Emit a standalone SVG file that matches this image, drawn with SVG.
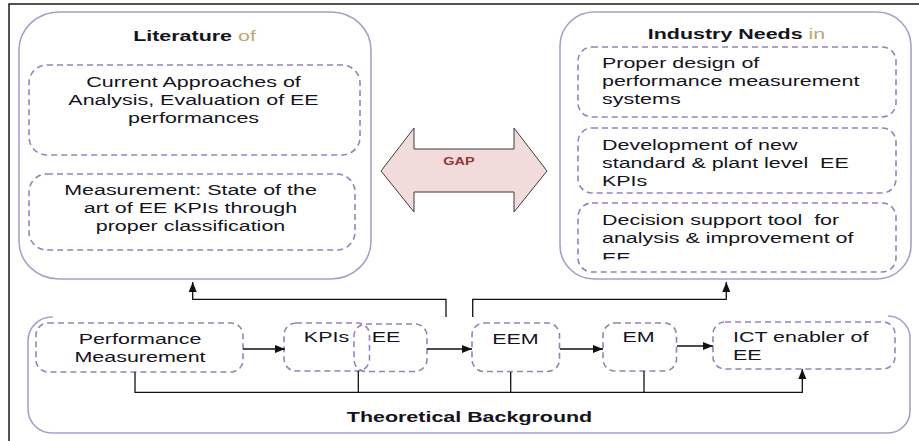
<svg xmlns="http://www.w3.org/2000/svg" width="919" height="441" viewBox="0 0 919 441">
<style>
.frame{fill:none;stroke:#1a1a1a;stroke-width:1.5}
.big{fill:none;stroke:#ab9dcb;stroke-width:1.6}
.dash{fill:#fff;stroke:#9781bb;stroke-width:1.6;stroke-dasharray:6 4}
.dashn{fill:none;stroke:#9781bb;stroke-width:1.6;stroke-dasharray:6 4}
.t{font-family:"Liberation Sans",Arial,sans-serif;font-size:15px;fill:#141420;white-space:pre}
.b{font-weight:bold}
.c{text-anchor:middle}
.tan{fill:#c2a673;font-weight:normal}
.con{fill:none;stroke:#111;stroke-width:1.3}
.gap{fill:#f2dcdb;stroke:#3c3c3c;stroke-width:1}
.gapt{font-family:"Liberation Sans",Arial,sans-serif;font-size:10px;font-weight:bold;fill:#953735;text-anchor:middle}
</style>
<defs>
<marker id="ah" viewBox="0 0 10 10" refX="10" refY="5" markerWidth="10" markerHeight="10" markerUnits="userSpaceOnUse" orient="auto">
<path d="M0,1 L10,5 L0,9 z" fill="#111"/>
</marker>
<clipPath id="clipEE"><rect x="590" y="240" width="200" height="19.5"/></clipPath>
</defs>
<rect width="919" height="441" fill="#fff"/>
<path class="frame" d="M9,441 L9,4 L919,4"/>

<g id="literature">
<rect class="big" x="19" y="12" width="352" height="267" rx="40" ry="38"/>
<g transform="translate(194.5,0) scale(1.43,1)"><text class="t b c" x="0" y="41">Literature <tspan class="tan">of</tspan></text></g>
</g>
<g id="lit-approaches">
<rect class="dash" x="29" y="65" width="331" height="90" rx="18"/>
<g transform="translate(193.5,0) scale(1.43,1)"><text class="t c" x="0" y="87">Current Approaches of</text><text class="t c" x="0" y="105">Analysis, Evaluation of EE</text><text class="t c" x="0" y="123">performances</text></g>
</g>
<g id="lit-measurement">
<rect class="dash" x="29" y="174" width="326" height="76" rx="18"/>
<g transform="translate(190.5,0) scale(1.43,1)"><text class="t c" x="0" y="195">Measurement: State of the</text><text class="t c" x="0" y="213">art of EE KPIs through</text><text class="t c" x="0" y="231">proper classification</text></g>
</g>

<g id="gap">
<polygon class="gap" points="381,171 414,128 414,149 514,149 514,128 547,171 514,212 514,192 414,192 414,212"/>
<g transform="translate(459,0) scale(1.45,1)"><text class="gapt" x="0" y="165">GAP</text></g>
</g>

<g id="industry">
<rect class="big" x="560" y="12" width="351" height="267" rx="34" ry="34"/>
<g transform="translate(736.5,0) scale(1.43,1)"><text class="t b c" x="0" y="39">Industry Needs <tspan class="tan">in</tspan></text></g>
</g>
<g id="ind-design">
<rect class="dash" x="578" y="47" width="318" height="70" rx="14"/>
<g transform="translate(602,0) scale(1.43,1)"><text class="t" x="0" y="68">Proper design of</text><text class="t" x="0" y="86">performance measurement</text><text class="t" x="0" y="104">systems</text></g>
</g>
<g id="ind-development">
<rect class="dash" x="578" y="128" width="318" height="65" rx="14"/>
<g transform="translate(602,0) scale(1.43,1)"><text class="t" x="0" y="150">Development of new</text><text class="t" x="0" y="168">standard &amp; plant level  EE</text><text class="t" x="0" y="186">KPIs</text></g>
</g>
<g id="ind-decision">
<rect class="dash" x="578" y="203" width="318" height="69" rx="14"/>
<g transform="translate(602,0) scale(1.43,1)"><text class="t" x="0" y="225">Decision support tool  for</text><text class="t" x="0" y="243">analysis &amp; improvement of</text></g>
<g clip-path="url(#clipEE)"><g transform="translate(602,0) scale(1.43,1)"><text class="t" x="0" y="263">EE</text></g></g>
</g>

<g id="theoretical">
<path class="big" d="M53,317 A24,24 0 0 0 28,341 L28,409 A24,24 0 0 0 52,433 L888,433 A22,22 0 0 0 910,411 L910,338 A22,22 0 0 0 888,316"/>
<g transform="translate(469.5,0) scale(1.43,1)"><text class="t b c" x="0" y="422">Theoretical Background</text></g>
</g>
<g id="pm">
<rect class="dash" x="36" y="323" width="207" height="49" rx="12"/>
<g transform="translate(140,0) scale(1.43,1)"><text class="t c" x="0" y="344">Performance</text><text class="t c" x="0" y="362">Measurement</text></g>
</g>
<g id="kpis">
<rect class="dashn" x="284" y="323" width="85.5" height="48" rx="12"/>
<g transform="translate(326.5,0) scale(1.43,1)"><text class="t c" x="0" y="342">KPIs</text></g>
</g>
<g id="ee">
<rect class="dashn" x="354" y="324" width="73" height="47.5" rx="12"/>
<g transform="translate(386,0) scale(1.43,1)"><text class="t c" x="0" y="342">EE</text></g>
</g>
<g id="eem">
<rect class="dash" x="472" y="323" width="87.5" height="48.5" rx="12"/>
<g transform="translate(515.5,0) scale(1.43,1)"><text class="t c" x="0" y="344">EEM</text></g>
</g>
<g id="em">
<rect class="dash" x="603" y="323" width="73.5" height="48" rx="12"/>
<g transform="translate(638.5,0) scale(1.43,1)"><text class="t c" x="0" y="342.5">EM</text></g>
</g>
<g id="ict">
<rect class="dash" x="713" y="322" width="182" height="47" rx="12"/>
<g transform="translate(733,0) scale(1.43,1)"><text class="t" x="0" y="342">ICT enabler of</text><text class="t" x="0" y="360">EE</text></g>
</g>

<g id="connectors">
<path class="con" d="M243,349 L285,349" marker-end="url(#ah)"/>
<path class="con" d="M427,349 L472,349" marker-end="url(#ah)"/>
<path class="con" d="M560,349 L603,349" marker-end="url(#ah)"/>
<path class="con" d="M677,346 L713,346" marker-end="url(#ah)"/>
<path class="con" d="M135,372 L135,392.3 L802.3,392.3 L802.3,369" marker-end="url(#ah)"/>
<path class="con" d="M358.3,371 L358.3,392.3"/>
<path class="con" d="M510.7,372 L510.7,392.3"/>
<path class="con" d="M644,371 L644,392.3"/>
<path class="con" d="M446,317 L446,299.3 L192.7,299.3 L192.7,282" marker-end="url(#ah)"/>
<path class="con" d="M472.7,317 L472.7,299.3 L726.3,299.3 L726.3,282" marker-end="url(#ah)"/>
</g>
</svg>
